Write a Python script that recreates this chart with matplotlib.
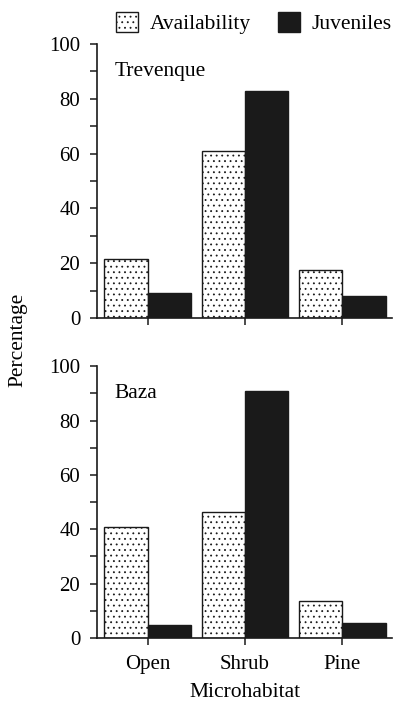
import matplotlib
matplotlib.use("Agg")
import matplotlib.pyplot as plt
import numpy as np
from matplotlib.patches import Patch

plt.rcParams['font.family'] = ['Liberation Serif', 'DejaVu Serif']
plt.rcParams['hatch.color'] = '#444444'
plt.rcParams['hatch.linewidth'] = 0.6

habitats = ["Open", "Shrub", "Pine"]
sites = ["Trevenque", "Baza"]
availability = {"Trevenque": [21.5, 61, 17.5], "Baza": [41, 46.5, 13.6]}
juveniles = {"Trevenque": [9, 83, 8], "Baza": [4.8, 90.8, 5.5]}

INK = "#1a1a1a"
DOTS = "..."
fig = plt.figure(figsize=(4, 7.06), dpi=100)
axes = [fig.add_axes([0.2425, 0.5496, 0.7375, 0.388]),
        fig.add_axes([0.2425, 0.0963, 0.7375, 0.385])]

x = np.arange(len(habitats))
w = 0.445
for ax, site in zip(axes, sites):
    ax.bar(x - w/2, availability[site], w, color="white", edgecolor=INK,
           linewidth=1.0, hatch=DOTS)
    ax.bar(x + w/2, juveniles[site], w, color=INK, edgecolor=INK, linewidth=1.0)
    ax.set_xlim(-0.52, 2.51)
    ax.set_ylim(0, 100)
    ax.set_yticks(range(0, 101, 20))
    ax.set_yticks(range(10, 100, 20), minor=True)
    ax.set_xticks(x)
    for s in ["top", "right"]:
        ax.spines[s].set_visible(False)
    for s in ["left", "bottom"]:
        ax.spines[s].set_linewidth(1.2)
        ax.spines[s].set_color(INK)
    ax.tick_params(axis="both", which="major", length=5, width=1.1, labelsize=15,
                   color=INK, pad=7)
    ax.tick_params(axis="y", which="minor", length=5, width=1.1, color=INK)
    ax.text(0.06, 0.9, site, transform=ax.transAxes, fontsize=15.5, ha="left", va="center")

axes[0].set_xticklabels([])
axes[1].set_xticklabels(habitats)
axes[1].set_xlabel("Microhabitat", fontsize=15.5, labelpad=7)
fig.text(0.045, 0.518, "Percentage", rotation=90, fontsize=15.5, ha="center", va="center")

handles = [Patch(facecolor="white", edgecolor=INK, hatch=DOTS, linewidth=1.0),
           Patch(facecolor=INK, edgecolor=INK)]
fig.legend(handles, ["Availability", "Juveniles"], loc="upper center",
           bbox_to_anchor=(0.635, 1.01), ncol=2, frameon=False, fontsize=15.5,
           handlelength=1.0, handleheight=1.0, columnspacing=1.3, handletextpad=0.55)

fig.savefig("out.png", dpi=100)
